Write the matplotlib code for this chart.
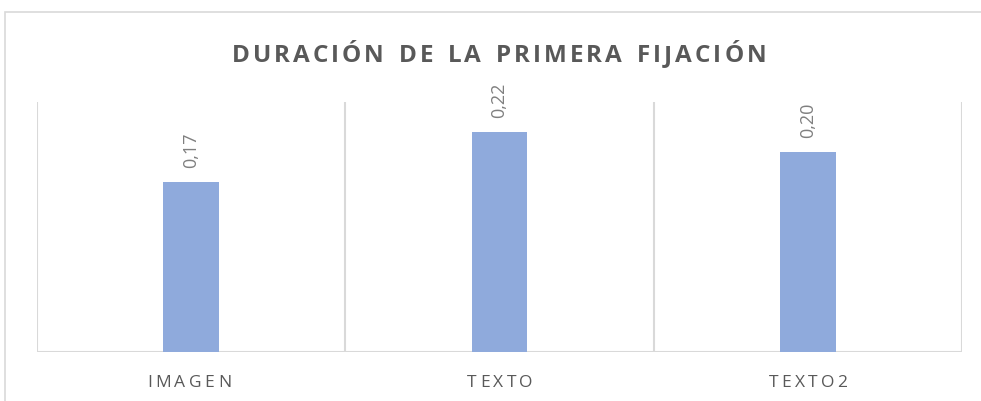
import matplotlib
matplotlib.use("Agg")
import matplotlib.pyplot as plt
from matplotlib.patches import Rectangle

categorias = ["IMAGEN", "TEXTO", "TEXTO2"]
valores = [0.17, 0.22, 0.20]
etiquetas = ["0,17", "0,22", "0,20"]
titulo = "DURACIÓN DE LA PRIMERA FIJACIÓN"

plt.rcParams['font.family'] = ['Open Sans', 'DejaVu Sans']

W, H = 981, 402
fig = plt.figure(figsize=(W/100, H/100), dpi=100)
ax = fig.add_axes([37/W, (H-353)/H, (962-37)/W, (353-103)/H])

gris = '#d9d9d9'
# marco del grafico (cortado a la derecha y abajo)
fig.patches.append(Rectangle((5/W, -0.1), 1.2, (H-13)/H + 0.1, transform=fig.transFigure,
                             fill=False, edgecolor=gris, lw=1.2))

x = range(len(categorias))
ax.bar(x, valores, width=0.18, color='#8faadc', zorder=3)
ax.set_xlim(-0.5, len(categorias)-0.5)
ax.set_ylim(0, 0.25)
for b in [-0.5, 0.5, 1.5, 2.5]:
    ax.axvline(b, color=gris, lw=1.5, zorder=1)
for s in ax.spines.values():
    s.set_visible(False)
ax.axhline(0, color=gris, lw=1.5, zorder=2)
ax.set_xticks([])
ax.set_yticks([])

for i, v in enumerate(valores):
    ax.annotate(etiquetas[i], (i, v), xytext=(0, 11), textcoords='offset points',
                rotation=90, ha='center', va='bottom', fontsize=13, color='#7f7f7f')

renderer = fig.canvas.get_renderer()

def texto_espaciado(cx, cy, s, espacio, **kw):
    # dibuja letra por letra para imitar el espaciado entre caracteres
    anchos = []
    for ch in s:
        t = fig.text(0, 0, ch if ch != ' ' else 'n', **kw)
        anchos.append(t.get_window_extent(renderer).width * (0.55 if ch == ' ' else 1))
        t.remove()
    total = sum(anchos) + espacio * (len(s) - 1)
    px = cx - total / 2
    for ch, w in zip(s, anchos):
        if ch != ' ':
            fig.text(px / W, 1 - cy / H, ch, ha='left', va='center', **kw)
        px += w + espacio

texto_espaciado(499, 56, titulo, 3.0, fontsize=17.5, fontweight='bold', color='#595959')

centros = [189, 500, 808]
for c, cat in zip(centros, categorias):
    texto_espaciado(c, 383, cat, 3.4, fontsize=12.5, color='#595959')

fig.savefig("out.png", dpi=100)
